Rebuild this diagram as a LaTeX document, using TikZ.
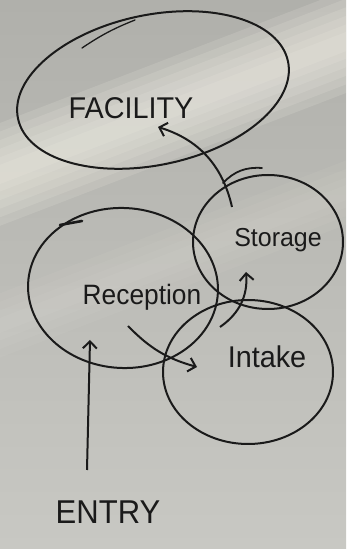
\documentclass[tikz,border=0pt]{standalone}
\usepackage{fontspec}
\setmainfont{Liberation Sans}
\usetikzlibrary{shapes.geometric,arrows.meta,calc}

\definecolor{boarddark}{RGB}{176,176,171}
\definecolor{boardlight}{RGB}{200,200,195}
\definecolor{glare}{RGB}{240,238,228}
\definecolor{marker}{RGB}{26,26,26}

\tikzset{
  x=1pt, y=1pt,
  zone/.style={ellipse, draw=marker, line width=2pt, inner sep=0pt},
  handtext/.style={text=marker, inner sep=0pt},
  flow/.style={draw=marker, line width=2pt,
    -{Straight Barb[length=7pt,width=14pt,line width=2pt]}},
  penmark/.style={draw=marker, line width=1.3pt, line cap=round},
}

\begin{document}
\begin{tikzpicture}
  \useasboundingbox (0,0) rectangle (346,549);

  % whiteboard surface: darker towards the top, with soft light streaks
  \shade[top color=boarddark, bottom color=boardlight] (0,0) rectangle (346,549);
  \begin{scope}
    \clip (0,0) rectangle (346,549);
    \foreach \h in {48,40,32,24,16,9} {
      \fill[glare, opacity=0.16, rotate around={21:(173,441)}]
        (-120,441-\h) rectangle (470,441+\h);
    }
    \foreach \h in {30,22,14,7} {
      \fill[glare, opacity=0.06, rotate around={21:(173,290)}]
        (-120,290-\h) rectangle (470,290+\h);
    }
  \end{scope}

  % zones
  \node[zone, minimum width=276, minimum height=150, rotate=12]
    (facilityzone) at (153,459) {};
  \node[zone, minimum width=150, minimum height=134]
    (storagezone) at (268,307) {};
  \node[zone, minimum width=190, minimum height=160, rotate=-3]
    (receptionzone) at (123,261) {};
  \node[zone, minimum width=170, minimum height=144]
    (intakezone) at (248,177) {};

  % pen overlaps where the outlines were started
  \draw[penmark] ($(facilityzone)+(-71,42)$) to[bend left=6] ($(facilityzone)+(-18,70)$);
  \draw[penmark, line width=2.6pt] ($(receptionzone)+(-63,63)$) -- ($(receptionzone)+(-41,67)$);
  \draw[penmark, line width=1.8pt] ($(storagezone)+(-45,59)$) to[bend left=25] ($(storagezone)+(-6,74)$);

  % labels
  \node[handtext, font=\fontsize{30}{32}\selectfont, xscale=0.96] (facility) at (131,441) {FACILITY};
  \node[handtext, font=\fontsize{28}{30}\selectfont, xscale=0.94] (reception) at (142,252) {Reception};
  \node[handtext, font=\fontsize{26}{28}\selectfont, xscale=0.96] (storage) at (278,309) {Storage};
  \node[handtext, font=\fontsize{30}{32}\selectfont, xscale=0.96] (intake) at (267,192) {Intake};
  \node[handtext, font=\fontsize{33}{35}\selectfont, xscale=0.94] (entry) at (108,37) {ENTRY};

  % flows
  \draw[flow] ($(entry)+(-21,42)$) -- ($(reception)+(-52,-43)$);
  \draw[flow] ($(reception)+(-14,-29)$) to[bend right=15] ($(intake)+(-70,-10)$);
  \draw[flow] ($(intake)+(-47,30)$) to[bend right=30] ($(storage)+(-32,-32)$);
  \draw[flow] ($(storage)+(-46,33)$) to[bend right=30] ($(facility)+(27,-19)$);
\end{tikzpicture}
\end{document}
